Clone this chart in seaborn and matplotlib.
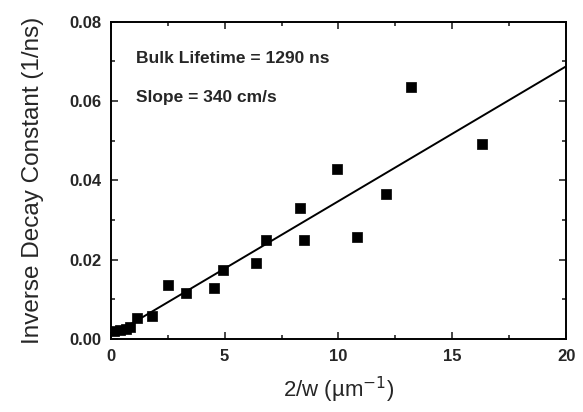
import numpy as np
import pandas as pd
import matplotlib
matplotlib.use("Agg")
import matplotlib.pyplot as plt
import seaborn as sns
from matplotlib.ticker import MultipleLocator, FormatStrFormatter

# Data
inv_width = [0.15, 0.4, 0.65, 0.85, 1.15, 1.8, 2.5, 3.3, 4.55, 4.95, 6.4, 6.8,
             8.3, 8.5, 9.95, 10.8, 12.1, 13.2, 16.3]
inv_decay = [0.0020, 0.0022, 0.0026, 0.0030, 0.0052, 0.0058, 0.0136, 0.0116,
             0.0129, 0.0174, 0.0192, 0.0250, 0.0331, 0.0250, 0.0429, 0.0257,
             0.0366, 0.0636, 0.0492]
bulk_lifetime_ns = 1290
slope_cm_s = 340
fit_x = [0, 20]
fit_y = [1.0 / bulk_lifetime_ns + slope_cm_s * 1e-5 * x for x in fit_x]
annotations = ["Bulk Lifetime = 1290 ns", "Slope = 340 cm/s"]

sns.set_style("ticks")
plt.rcParams['font.family'] = ['Liberation Sans', 'DejaVu Sans']

fig = plt.figure(figsize=(5.83, 4.12), dpi=100)
ax = fig.add_axes([0.19, 0.177, 0.781, 0.77])

pts = pd.DataFrame({"x": inv_width, "y": inv_decay})
fit = pd.DataFrame({"x": fit_x, "y": fit_y})
sns.lineplot(data=fit, x="x", y="y", ax=ax, color="black", linewidth=1.4)
sns.scatterplot(data=pts, x="x", y="y", ax=ax, marker="s", s=42,
                color="black", edgecolor="black", linewidth=0.5, zorder=3)

ax.set_xlim(0, 20)
ax.set_ylim(0, 0.08)
ax.xaxis.set_major_locator(MultipleLocator(5))
ax.xaxis.set_minor_locator(MultipleLocator(2.5))
ax.yaxis.set_major_locator(MultipleLocator(0.02))
ax.yaxis.set_minor_locator(MultipleLocator(0.01))
ax.yaxis.set_major_formatter(FormatStrFormatter('%.2f'))
ax.tick_params(which="both", direction="in", top=True, right=True, width=1.2)
ax.tick_params(which="major", length=5, labelsize=12, pad=7)
ax.tick_params(which="minor", length=3)
for lab in ax.get_xticklabels() + ax.get_yticklabels():
    lab.set_fontweight("bold")
for sp in ax.spines.values():
    sp.set_linewidth(1.4)
    sp.set_color("black")

ax.set_xlabel("2/w (\u00b5m$^{-1}$)", fontsize=16, labelpad=8)
ax.set_ylabel("Inverse Decay Constant (1/ns)", fontsize=17.5, labelpad=18)

ax.text(0.055, 0.885, annotations[0], transform=ax.transAxes, fontsize=12.5,
        fontweight="bold", va="center", ha="left")
ax.text(0.055, 0.76, annotations[1], transform=ax.transAxes, fontsize=12.5,
        fontweight="bold", va="center", ha="left")

fig.savefig("out.png", dpi=100)
